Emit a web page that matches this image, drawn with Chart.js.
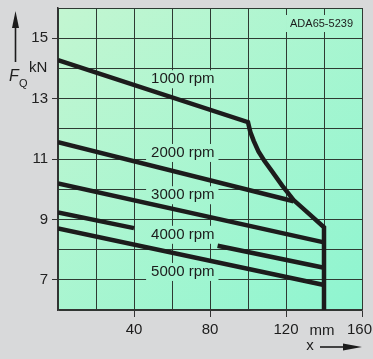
<!DOCTYPE html>
<html>
<head>
<meta charset="utf-8">
<script src="https://cdn.jsdelivr.net/npm/chart.js@4.4.0/dist/chart.umd.min.js"></script>
<style>
  html, body { margin: 0; padding: 0; background: #d8d9da; }
  #wrap { width: 373px; height: 359px; position: relative; }
</style>
</head>
<body>
<div id="wrap"><canvas id="chart"></canvas></div>
<script>
const rpmLabels = ['1000 rpm', '2000 rpm', '3000 rpm', '4000 rpm', '5000 rpm'];

// 1000 rpm runs into the limit curve and then down the stroke limit at 140 mm
const x1000 = [0, 100, 101.2, 103, 105.5, 108.5, 112, 118, 124, 132, 140, 140];
const y1000 = [14.27, 12.22, 11.9, 11.6, 11.25, 10.95, 10.65, 10.12, 9.64, 9.19, 8.74, 6.0];
const x2000 = [0, 124];
const y2000 = [11.56, 9.6];
const x3000 = [0, 140];
const y3000 = [10.19, 8.24];
// broken where the label sits
const x4000 = [0, 40, 62, 84, 140];
const y4000 = [9.23, 8.71, null, 8.13, 7.40];
const x5000 = [0, 140];
const y5000 = [8.70, 6.83];

const xTickLabels = [40, 80, 120, 160];
const yTickLabels = [7, 9, 11, 13, 15];

const FONT = "'Liberation Sans', Arial, sans-serif";
const INK = '#1c1c1c';

function pts(xs, ys) {
  return xs.map((x, i) => ({ x: x, y: ys[i] }));
}

function series(label, xs, ys) {
  return {
    label: label,
    data: pts(xs, ys),
    borderColor: INK,
    borderWidth: 4.5,
    borderCapStyle: 'butt',
    borderJoinStyle: 'miter',
    pointRadius: 0,
    fill: false,
    tension: 0,
    spanGaps: false
  };
}

let plotFill = null;
function getFill(ctx, area) {
  const g = ctx.createLinearGradient(area.left, area.top, area.right, area.bottom);
  g.addColorStop(0, '#c3f6d1');
  g.addColorStop(1, '#8ef5d0');
  return g;
}

function arrow(ctx, x1, y1, x2, y2, headLen, headHalf) {
  const ang = Math.atan2(y2 - y1, x2 - x1);
  ctx.beginPath();
  ctx.moveTo(x1, y1);
  ctx.lineTo(x2 - Math.cos(ang) * headLen * 0.8, y2 - Math.sin(ang) * headLen * 0.8);
  ctx.stroke();
  ctx.beginPath();
  ctx.moveTo(x2, y2);
  ctx.lineTo(x2 - Math.cos(ang) * headLen - Math.sin(ang) * headHalf, y2 - Math.sin(ang) * headLen + Math.cos(ang) * headHalf);
  ctx.lineTo(x2 - Math.cos(ang) * headLen + Math.sin(ang) * headHalf, y2 - Math.sin(ang) * headLen - Math.cos(ang) * headHalf);
  ctx.closePath();
  ctx.fill();
}

const decor = {
  id: 'decor',
  beforeDraw(chart) {
    const { ctx, chartArea: a } = chart;
    ctx.save();
    ctx.fillStyle = '#d8d9da';
    ctx.fillRect(0, 0, chart.width, chart.height);
    plotFill = getFill(ctx, a);
    ctx.fillStyle = plotFill;
    ctx.fillRect(a.left, a.top, a.right - a.left, a.bottom - a.top);
    ctx.restore();
  },
  beforeDatasetsDraw(chart) {
    const { ctx, scales: { x, y } } = chart;
    // curve labels sit on boxes of plot colour that hide the grid behind them
    const at = [[49, 13.64], [49, 11.2], [49, 9.8], [49, 8.49], [49, 7.26]];
    ctx.save();
    ctx.font = '15px ' + FONT;
    ctx.textBaseline = 'middle';
    ctx.textAlign = 'left';
    rpmLabels.forEach((t, i) => {
      const px = x.getPixelForValue(at[i][0]);
      const py = y.getPixelForValue(at[i][1]);
      const w = ctx.measureText(t).width;
      ctx.fillStyle = plotFill;
      ctx.fillRect(px - 5, py - 9, w + 9, 18);
      ctx.fillStyle = INK;
      ctx.fillText(t, px, py);
    });
    // drawing number
    ctx.font = '11px ' + FONT;
    ctx.textAlign = 'right';
    const t2 = 'ADA65-5239';
    const w2 = ctx.measureText(t2).width;
    ctx.fillStyle = plotFill;
    ctx.fillRect(352 - w2 - 3, 15, w2 + 6, 17);
    ctx.fillStyle = INK;
    ctx.fillText(t2, 353, 24);
    ctx.restore();
  },
  afterDraw(chart) {
    const { ctx, scales: { x } } = chart;
    ctx.save();
    ctx.fillStyle = INK;
    ctx.strokeStyle = INK;
    ctx.font = '15px ' + FONT;
    ctx.textBaseline = 'middle';
    ctx.textAlign = 'center';
    xTickLabels.forEach(v => {
      const w = ctx.measureText(String(v)).width;
      let px = x.getPixelForValue(v);
      if (px + w / 2 > chart.width - 1) px = chart.width - 1 - w / 2;
      ctx.fillText(String(v), px, 330);
    });
    ctx.fillText('mm', 322, 331);
    ctx.fillText('x', 310, 346);
    ctx.lineWidth = 1.6;
    arrow(ctx, 320, 347, 362, 347, 19, 3.5);

    // y axis title with arrow
    arrow(ctx, 15.5, 62, 15.5, 11, 17, 3.5);
    ctx.textAlign = 'left';
    ctx.textBaseline = 'alphabetic';
    ctx.fillText('kN', 29, 72);
    ctx.font = 'italic 16px ' + FONT;
    ctx.fillText('F', 9, 81);
    ctx.font = '11px ' + FONT;
    ctx.fillText('Q', 19, 87);
    ctx.restore();
  }
};

new Chart(document.getElementById('chart'), {
  type: 'line',
  data: {
    datasets: [
      series(rpmLabels[0], x1000, y1000),
      series(rpmLabels[1], x2000, y2000),
      series(rpmLabels[2], x3000, y3000),
      series(rpmLabels[3], x4000, y4000),
      series(rpmLabels[4], x5000, y5000)
    ]
  },
  options: {
    responsive: true,
    maintainAspectRatio: false,
    animation: false,
    layout: { padding: { left: 0, right: 11, top: 8, bottom: 0 } },
    plugins: { legend: { display: false }, tooltip: { enabled: false } },
    scales: {
      x: {
        type: 'linear',
        min: 0,
        max: 160,
        afterFit: s => { s.height = 49; s.paddingLeft = 0; s.paddingRight = 0; },
        ticks: { stepSize: 20, display: false },
        grid: {
          color: '#2e3a33',
          lineWidth: 1,
          tickLength: 7,
          tickColor: c => (c.tick && xTickLabels.includes(c.tick.value)) ? '#333' : 'rgba(0,0,0,0)'
        },
        border: { color: '#333', width: 1.5 }
      },
      y: {
        type: 'linear',
        min: 6,
        max: 16,
        afterFit: s => { s.width = 58; s.paddingTop = 0; s.paddingBottom = 0; },
        ticks: {
          stepSize: 1,
          padding: 4,
          color: '#222',
          font: { family: FONT, size: 15 },
          callback: v => yTickLabels.includes(v) ? String(v) : ''
        },
        grid: {
          color: '#2e3a33',
          lineWidth: 1,
          tickLength: 6,
          tickColor: c => (c.tick && yTickLabels.includes(c.tick.value)) ? '#333' : 'rgba(0,0,0,0)'
        },
        border: { color: '#333', width: 1.5 }
      }
    }
  },
  plugins: [decor]
});
</script>
</body>
</html>
